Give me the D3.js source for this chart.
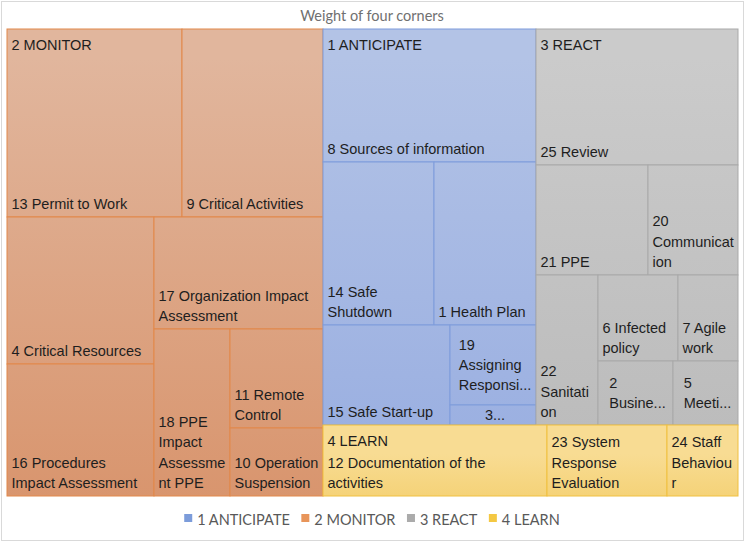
<!DOCTYPE html>
<html><head><meta charset="utf-8">
<script src="https://cdn.jsdelivr.net/npm/d3@7"></script>
<style>body{margin:0;background:#fff} svg{display:block}</style>
</head><body>
<svg id="chart" width="745" height="543"></svg>
<script>
const chartTitle = "Weight of four corners";
const groups = ["1 ANTICIPATE", "2 MONITOR", "3 REACT", "4 LEARN"];
const itemLabels = [
  "1 Health Plan", "2 Busine...", "3...", "4 Critical Resources", "5 Meeti...",
  "6 Infected policy", "7 Agile work", "8 Sources of information", "9 Critical Activities",
  "10 Operation Suspension", "11 Remote Control", "12 Documentation of the activities",
  "13 Permit to Work", "14 Safe Shutdown", "15 Safe Start-up", "16 Procedures Impact Assessment",
  "17 Organization Impact Assessment", "18 PPE Impact Assessment PPE", "19 Assigning Responsi...",
  "20 Communication", "21 PPE", "22 Sanitation", "23 System Response Evaluation",
  "24 Staff Behaviour", "25 Review"
];
const itemGroups = [
  "1 ANTICIPATE", "3 REACT", "1 ANTICIPATE", "2 MONITOR", "3 REACT",
  "3 REACT", "3 REACT", "1 ANTICIPATE", "2 MONITOR",
  "2 MONITOR", "2 MONITOR", "4 LEARN",
  "2 MONITOR", "1 ANTICIPATE", "1 ANTICIPATE", "2 MONITOR",
  "2 MONITOR", "2 MONITOR", "1 ANTICIPATE",
  "3 REACT", "3 REACT", "3 REACT", "4 LEARN",
  "4 LEARN", "3 REACT"
];
const itemValues = [
  4.870, 1.406, 0.504, 6.330, 1.219,
  2.015, 1.512, 8.298, 7.765,
  1.853, 2.697, 4.659,
  9.637, 5.300, 3.720, 5.684,
  5.545, 3.718, 2.015,
  2.900, 3.609, 2.724, 2.496,
  1.477, 8.047
];

// styling (not data)
const styles = {
  "1 ANTICIPATE": {top: "#B3C3E6", bottom: "#9AAFE1", stroke: "#7F9CDB", legend: "#7C9CDA"},
  "2 MONITOR":    {top: "#E1B69D", bottom: "#D8936B", stroke: "#E2884A", legend: "#E8955A"},
  "3 REACT":      {top: "#CBCBCB", bottom: "#BBBBBB", stroke: "#A9A9A9", legend: "#ABABAB"},
  "4 LEARN":      {top: "#F8DC93", bottom: "#F3CC66", stroke: "#F0C040", legend: "#F4C843"}
};
const W = 745, H = 543;
const plot = {x: 7, y: 29, w: 731, h: 467};
const FONT = "'Liberation Sans', Arial, sans-serif";
const FS = 14.5, LH = 20.4, PADL = 4.5, PADR = 3.2;

const svg = d3.select("#chart");
svg.append("rect").attr("x", 1.5).attr("y", 1.5).attr("width", 742).attr("height", 539)
  .attr("fill", "#fff").attr("stroke", "#D9D9D9");

svg.append("text").attr("x", 372).attr("y", 21).attr("text-anchor", "middle")
  .attr("font-family", "Lato, 'Open Sans', sans-serif").attr("font-size", 14.5)
  .attr("fill", "#707070").text(chartTitle);

// Excel-like squarified tiling (ideal cell aspect w/h = TARGET)
const TARGET = 0.81;
function excelTile(parent, x0, y0, x1, y1) {
  const nodes = parent.children;
  let value = parent.value, i0 = 0;
  while (i0 < nodes.length) {
    const dx = x1 - x0, dy = y1 - y0;
    const k = value ? dx * dy / value : 0;
    const dice = dx < dy;
    const worst = (i1, sum) => {
      let m = 0;
      for (let i = i0; i < i1; i++) {
        let w, h;
        if (dice) { h = sum * k / dx; w = nodes[i].value * k / h; }
        else { w = sum * k / dy; h = nodes[i].value * k / w; }
        const a = w / h;
        m = Math.max(m, a / TARGET, TARGET / a);
      }
      return m;
    };
    let i1 = i0 + 1, sum = nodes[i0].value, best = worst(i1, sum);
    while (i1 < nodes.length) {
      const s2 = sum + nodes[i1].value;
      const w2 = worst(i1 + 1, s2);
      if (w2 > best) break;
      best = w2; sum = s2; i1++;
    }
    const row = {value: sum, children: nodes.slice(i0, i1)};
    if (dice) d3.treemapDice(row, x0, y0, x1, i1 < nodes.length ? (y0 += dy * sum / value) : y1);
    else d3.treemapSlice(row, x0, y0, i1 < nodes.length ? (x0 += dx * sum / value) : x1, y1);
    value -= sum; i0 = i1;
  }
}

const data = {name: "root", children: groups.map(g => ({
  name: g,
  children: itemLabels.map((l, i) => ({name: l, group: itemGroups[i], value: itemValues[i]}))
    .filter(d => d.group === g)
}))};
const root = d3.hierarchy(data).sum(d => d.value || 0).sort((a, b) => b.value - a.value);
d3.treemap().tile(excelTile).size([plot.w, plot.h]).round(false)(root);

const defs = svg.append("defs");
root.children.forEach((g, gi) => {
  const st = styles[g.data.name];
  const lg = defs.append("linearGradient").attr("id", "grad" + gi)
    .attr("gradientUnits", "userSpaceOnUse")
    .attr("x1", 0).attr("x2", 0).attr("y1", plot.y + g.y0).attr("y2", plot.y + g.y1);
  lg.append("stop").attr("offset", "0%").attr("stop-color", st.top);
  lg.append("stop").attr("offset", "100%").attr("stop-color", st.bottom);
  g.gradId = "grad" + gi;
});

const gPlot = svg.append("g").attr("transform", `translate(${plot.x},${plot.y})`);
const leaves = root.leaves();
gPlot.selectAll("rect.cell").data(leaves).join("rect").attr("class", "cell")
  .attr("x", d => d.x0).attr("y", d => d.y0)
  .attr("width", d => d.x1 - d.x0).attr("height", d => d.y1 - d.y0)
  .attr("fill", d => `url(#${d.parent.gradId})`)
  .attr("stroke", d => styles[d.parent.data.name].stroke).attr("stroke-width", 1);

// text measuring
const meas = svg.append("text").attr("font-family", FONT).attr("font-size", FS).attr("visibility", "hidden");
const measure = s => { meas.text(s); return meas.node().getComputedTextLength(); };
function wrap(text, maxW) {
  const words = text.split(" ");
  const lines = []; let cur = "";
  for (const w of words) {
    const test = cur ? cur + " " + w : w;
    if (measure(test) <= maxW) { cur = test; continue; }
    if (cur) lines.push(cur);
    let word = w;
    while (measure(word) > maxW && word.length > 1) {
      let i = word.length - 1;
      while (i > 1 && measure(word.slice(0, i)) > maxW) i--;
      lines.push(word.slice(0, i)); word = word.slice(i);
    }
    cur = word;
  }
  if (cur) lines.push(cur);
  return lines;
}

const labelG = gPlot.append("g").attr("font-family", FONT).attr("font-size", FS).attr("fill", "#1E1E1E");
leaves.forEach(d => {
  const w = d.x1 - d.x0, h = d.y1 - d.y0;
  const lines = wrap(d.data.name, w - PADL - PADR);
  const truncated = d.data.name.endsWith("...");
  const t = labelG.append("text");
  if (truncated) {
    const bw = d3.max(lines, measure);
    const x = d.x0 + (w - bw) / 2 + 2;
    const bh = (lines.length - 1) * LH;
    const yb = d.y0 + h / 2 - bh / 2 + 5;
    lines.forEach((l, i) => t.append("tspan").attr("x", x).attr("y", yb + i * LH).text(l));
  } else {
    const ylast = d.y1 - 8;
    lines.forEach((l, i) => t.append("tspan").attr("x", d.x0 + PADL)
      .attr("y", ylast - (lines.length - 1 - i) * LH).text(l));
  }
});
// group (parent) labels at top-left of the first child
root.children.forEach(g => {
  const c = g.children[0];
  labelG.append("text").attr("x", c.x0 + PADL).attr("y", c.y0 + 21).text(g.data.name);
});

// legend
const leg = svg.append("g").attr("font-family", "Lato, 'Open Sans', sans-serif").attr("font-size", 14.5).attr("fill", "#595959");
const lm = leg.append("text").attr("visibility", "hidden");
const widths = groups.map(g => { lm.text(g); return lm.node().getComputedTextLength(); });
const SQ = 8, G1 = 5, G2 = 11.5;
const total = d3.sum(widths) + groups.length * (SQ + G1) + (groups.length - 1) * G2;
let lx = 372 - total / 2;
groups.forEach((g, i) => {
  leg.append("rect").attr("x", lx).attr("y", 514).attr("width", SQ).attr("height", SQ)
    .attr("fill", styles[g].legend);
  leg.append("text").attr("x", lx + SQ + G1).attr("y", 524.5).text(g);
  lx += SQ + G1 + widths[i] + G2;
});
</script>
</body></html>
